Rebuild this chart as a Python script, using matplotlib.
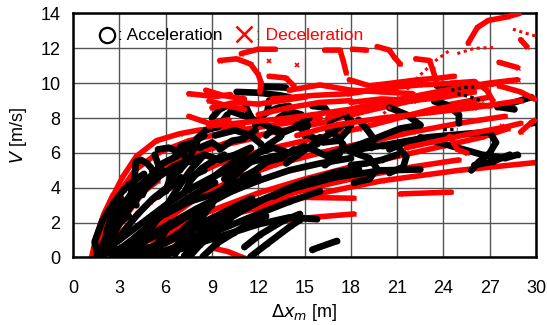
import matplotlib
matplotlib.use("Agg")
import matplotlib.pyplot as plt

# ---------------- data ----------------
x_ticks = [0, 3, 6, 9, 12, 15, 18, 21, 24, 27, 30]
y_ticks = [0, 2, 4, 6, 8, 10, 12, 14]

# Deceleration trajectories (dx_m [m], V [m/s])
dec_x = [
    [1.3, 1.7, 2.4, 3.2, 4.1, 5.4, 6.9, 8.1, 11.0],
    [1.5, 2.2, 3.0, 4.0, 5.5, 7.5, 10, 13, 16],
    [1.8, 2.8, 4.0, 5.5, 7.5, 10, 13, 16, 19, 22, 25, 27.5],
    [2.0, 3.5, 5.0, 7.0, 9.5, 12.5, 15.5, 18.5, 21.5, 24.5, 27],
    [2.5, 4.5, 7, 10, 13, 16, 19, 22, 25, 28],
    [3, 6, 9, 12, 15, 18, 21, 24, 26.5, 28.2],
    [5, 10, 15, 20, 25, 30],
    [13.5, 15.5, 18.2],
    [12, 15, 18.2],
    [21.2, 24.5],
    [9.0, 10.0, 11.0],
    [1.2, 1.5, 2.0, 2.6],
    [2.0, 3.5, 4.6, 5.5],
    [3.5, 5.5, 8, 11, 14, 17, 20],
    [4.5, 7, 10, 13, 16, 19, 22, 25],
    [1.4, 2.5, 3.5],
    [6, 8, 10, 12],
    [8.6, 9.7, 11.1],
    [8.8, 10.0, 11.1],
    [7.5, 8.8, 10.1],
    [9.5, 10.6, 11.5, 12.0, 12.2, 12.1],
    [10.9, 12.0, 13.1],
    [12.7, 13.8, 14.3],
    [16.3, 17.3, 17.5, 17.7],
    [18.1, 19.0],
    [19.7, 20.5, 20.8, 21.2],
    [22.2, 23.1, 23.3, 23.5],
    [25.6, 26.2, 26.9, 28.1, 28.9],
    [29.0, 29.4],
    [27.6, 28.8],
    [17.9, 19.2, 20.6, 22.4, 23.8, 24.7],
    [12.9, 15.6, 17.9, 20.1, 22.4, 24.7, 26.5],
    [24.5, 26.0, 26.8, 27.2],
    [27.6, 29.0, 29.9],
    [29.0, 29.7, 30.0],
    [8.8, 11.1, 13.4, 15.6, 17.9, 20.1, 22.4, 24.7, 26.9, 28.8],
    [12, 14, 16, 18],
    [14.5, 17, 20, 23, 26, 29],
    [21.6, 26.0, 28.1, 29.0],
    [24.4, 24.9, 25.5],
    [7.5, 8.5, 9.3, 10.2],
    [9.0, 10.5, 12.0, 13.5, 15.0],
    [14, 16, 18, 20, 22],
    [18, 20, 22, 24, 26],
    [16.5, 17.5, 18.5, 19.5],
    [22.5, 24.0, 25.5, 27.0],
]
dec_y = [
    [0.1, 1.5, 3.2, 4.6, 5.8, 6.7, 7.1, 7.3, 7.6],
    [0.1, 2.0, 3.7, 5.0, 6.0, 6.7, 7.2, 7.6, 8.0],
    [0.2, 2.0, 3.6, 4.8, 5.8, 6.6, 7.2, 7.7, 8.4, 9.0, 9.6, 10.0],
    [0.1, 1.8, 3.2, 4.4, 5.4, 6.2, 6.8, 7.4, 8.1, 8.8, 9.2],
    [0.1, 1.5, 3.0, 4.3, 5.3, 6.0, 6.6, 7.2, 7.7, 8.1],
    [0.1, 1.5, 2.7, 3.7, 4.5, 5.2, 5.8, 6.4, 6.9, 7.4],
    [1.0, 2.4, 3.5, 4.4, 5.0, 5.45],
    [2.1, 2.3, 2.5],
    [3.1, 3.45, 3.4],
    [3.65, 3.75],
    [0.55, 0.35, 0.0],
    [0.0, 1.2, 2.5, 3.6],
    [0.5, 2.5, 3.8, 4.4],
    [0.3, 1.8, 3.4, 4.7, 5.6, 6.2, 6.8],
    [0.2, 1.2, 2.4, 3.4, 4.1, 4.7, 5.2, 5.6],
    [0.0, 0.8, 1.8],
    [5.2, 6.0, 6.5, 6.9],
    [9.6, 9.3, 9.1],
    [9.0, 8.7, 8.5],
    [8.1, 7.7, 7.9],
    [11.3, 11.4, 11.1, 10.5, 10.0, 9.5],
    [11.7, 11.95, 11.95],
    [10.4, 10.3, 9.85],
    [11.9, 11.9, 11.3, 10.6],
    [11.95, 11.9],
    [12.1, 11.9, 11.5, 11.1],
    [11.4, 11.3, 10.8, 10.2],
    [12.3, 13.2, 13.6, 13.8, 14.0],
    [12.5, 12.1],
    [11.2, 10.9],
    [10.2, 9.85, 10.0, 10.2, 10.3, 10.4],
    [9.1, 9.3, 9.4, 9.7, 9.9, 10.0, 9.9],
    [10.0, 10.1, 9.6, 9.0],
    [9.85, 9.5, 9.1],
    [7.2, 7.75, 7.9],
    [7.55, 7.75, 7.95, 8.2, 8.5, 8.9, 9.3, 9.7, 10.0, 10.2],
    [8.2, 8.6, 8.9, 9.0],
    [7.0, 7.6, 8.0, 8.3, 8.6, 9.0],
    [6.3, 7.15, 7.5, 7.7],
    [6.96, 6.2, 6.0],
    [9.4, 9.3, 9.25, 9.35],
    [8.6, 8.9, 8.8, 9.0, 9.2],
    [9.6, 9.9, 9.6, 9.5, 9.4],
    [8.9, 9.1, 9.0, 9.2, 9.5],
    [8.0, 8.3, 8.6, 8.8],
    [8.3, 8.6, 8.8, 8.7],
]
# sparse (dotted) deceleration trajectories
dec_sparse_x = [
    [19.5, 21.3, 22.4, 23.5, 24.5],
    [24.9, 26.0, 27.2],
    [28.5, 29.2, 30.0],
]
dec_sparse_y = [
    [7.7, 9.3, 10.4, 11.3, 11.95],
    [11.7, 12.0, 12.05],
    [13.1, 12.9, 12.7],
]
dec_single_x = [14.5, 12.7, 27.8]
dec_single_y = [11.05, 11.3, 7.55]

# Acceleration trajectories
acc_x = [
    [1.6, 1.4, 1.9, 2.6, 3.3, 4.1, 4.6],
    [4.1, 3.95, 4.07, 4.4, 4.8, 5.1, 5.25],
    [1.8, 2.5, 3.5, 4.5, 5.5, 6.5, 7.5],
    [1.7, 3, 4.5, 6, 7.5, 9, 10.5, 12, 13.5],
    [2, 4, 6, 8, 10, 12, 14, 16, 18],
    [2.5, 5, 8, 11, 14, 17, 20, 22.5],
    [3, 6, 9, 12, 14, 16],
    [4.5, 7, 9.5, 12, 14, 15.8],
    [8.4, 9.3, 10.4, 11.3, 12.5],
    [11.5, 12.6, 14.1, 14.7],
    [11.1, 12.1, 13.6, 14.7],
    [15.5, 17.1],
    [7.2, 7.8, 8.5],
    [18.5, 20.5, 23.0, 25.5, 27.0, 27.4, 27.0, 26.3, 25.8],
    [22.5, 24.5, 26.5, 28.0, 28.8],
    [26.0, 27.2, 28.3],
    [17.9, 19.2, 19.7, 19.2, 18.2],
    [20.0, 21.0, 21.6, 21.4, 20.5],
    [23.5, 24.8],
    [27.5, 28.4, 29.7],
    [27.5, 28.6],
    [20.5, 21.6, 22.5],
    [23.4, 24.2, 25.0, 25.0],
    [29.7, 30.0],
    [10.6, 12.1, 13.4, 14.0],
    [12.4, 13.8],
    [11.0, 11.2, 11.5],
    [12.7, 12.6],
    [10.2, 11.5, 12.5, 13.5],
    [13.3, 14.0, 14.8, 15.2, 15.0],
    [15.5, 16.3, 16.8, 16.5],
    [14.5, 15.3, 16.2, 17.2, 17.8, 18.0],
    [9.2, 10.5, 11.5, 12.2],
    [7.4, 8.2, 9.0, 9.5],
    [5.5, 6.2, 7.0, 7.6],
    [5.3, 5.6, 6.2, 6.9],
    [7.5, 8.5, 9.5, 10.5, 11.5],
    [12, 13, 14, 15, 16, 17],
    [3.5, 3.8, 3.6],
    [5.5, 6.5, 7.5, 8.5],
    [2.8, 3.3, 3.0],
    [6.0, 7.5, 9, 10.5, 12],
    [13, 15, 17, 18.5],
    [16.3, 17.2, 17.5, 17.0],
    [9.0, 9.5, 10.2, 10.5],
    [18.5, 19.0, 19.5, 19.3],
    [16.5, 18, 19.5, 21.2, 22.5],
    [2.2, 2.9, 3.8, 4.7, 5.6],
    [4.0, 5.0, 6.0, 6.8, 7.6, 8.4],
    [6.6, 7.4, 8.2, 9.0, 9.8, 10.6, 11.4],
    [8.0, 9.5, 11.0, 12.5, 14.0, 15.5],
    [1.9, 2.5, 3.2, 4.0, 4.8, 5.5],
    [2.3, 3.2, 4.2, 5.2, 6.2, 7.0],
    [2.6, 3.8, 5.0, 6.4, 7.8, 9.2],
    [3.2, 4.6, 6.0, 7.5, 9.0, 10.5, 12.0],
    [3.6, 5.2, 6.8, 8.4, 10.0, 11.6],
    [1.5, 2.0, 2.8, 3.6],
    [2.0, 2.2, 2.6, 3.1],
    [5.0, 6.0, 7.0, 8.0, 9.0],
    [6.0, 7.5, 9.0, 10.5],
    [7.6, 8.2, 8.7, 9.4, 10.2],
    [5.5, 6.5, 7.3, 7.9],
    [4.8, 5.3, 5.9, 6.3],
    [4.5, 5.0, 5.8, 6.7, 7.4],
    [6.0, 6.3, 6.9, 7.5, 8.0],
    [7.2, 7.6, 8.3, 9.0, 9.8],
    [8.5, 9.2, 9.8, 10.6, 11.4],
    [9.8, 10.4, 11.2, 12.0, 12.7, 13.4],
    [11.0, 11.8, 12.6, 13.5, 14.3],
    [8.0, 8.6, 9.4, 10.0],
    [9.5, 10.3, 11.0, 11.8],
    [12.5, 13.0, 13.7, 14.5, 15.3],
    [6.6, 7.0, 7.8, 8.5],
    [15.0, 15.8, 16.6, 17.5],
    [13.8, 14.6, 15.4, 16.0],
    [11.8, 12.5, 13.3, 14.0],
    [17.0, 17.6, 18.0],
    [18.0, 19.0, 20.0, 21.0],
    [20.5, 21.5, 22.5],
]
acc_y = [
    [0.1, 0.9, 2.1, 3.1, 3.9, 4.5, 4.8],
    [3.0, 4.0, 5.5, 5.6, 5.4, 5.1, 4.6],
    [0.2, 1.4, 2.8, 3.8, 4.6, 5.2, 5.6],
    [0.3, 1.0, 2.0, 3.0, 3.9, 4.6, 5.2, 5.6, 5.9],
    [0.2, 0.8, 1.8, 2.8, 3.7, 4.4, 5.0, 5.4, 5.7],
    [0.1, 0.6, 1.7, 2.9, 3.9, 4.6, 5.0, 5.05],
    [0.1, 0.4, 1.4, 2.5, 3.2, 3.8],
    [0.1, 0.5, 1.2, 1.9, 2.3, 2.2],
    [0.05, 0.8, 1.4, 1.9, 2.4],
    [0.05, 0.8, 1.8, 2.15],
    [0.6, 1.3, 2.1, 2.5],
    [0.45, 0.95],
    [0.1, 0.6, 1.2],
    [6.2, 6.5, 6.9, 7.1, 7.2, 6.6, 6.0, 5.5, 5.0],
    [6.9, 6.4, 5.9, 5.7, 5.9],
    [5.3, 5.5, 5.9],
    [6.1, 5.7, 5.1, 4.5, 4.3],
    [6.4, 6.4, 5.8, 5.2, 4.85],
    [9.9, 9.9],
    [8.65, 8.85, 9.2],
    [8.65, 8.5],
    [8.6, 8.2, 7.6],
    [8.96, 8.77, 8.2, 7.7],
    [7.7, 7.75],
    [9.5, 9.45, 9.3, 9.2],
    [9.8, 9.75],
    [9.1, 8.65, 8.1],
    [9.0, 8.4],
    [8.4, 8.0, 7.6, 7.0],
    [8.0, 8.4, 8.2, 7.6, 7.0],
    [8.7, 8.6, 8.0, 7.3],
    [7.6, 7.0, 6.6, 6.7, 7.3, 7.9],
    [7.0, 7.3, 7.0, 6.5],
    [6.5, 6.3, 6.6, 6.3],
    [6.2, 6.3, 6.0, 5.5],
    [5.9, 5.1, 4.8, 5.3],
    [5.5, 5.9, 5.6, 5.9, 6.3],
    [6.0, 6.3, 6.0, 6.4, 6.0, 5.6],
    [3.0, 3.8, 4.2],
    [3.5, 4.2, 4.6, 5.0],
    [1.8, 2.5, 3.4],
    [2.5, 3.2, 3.6, 4.3, 4.7],
    [3.5, 4.3, 4.9, 5.1],
    [5.3, 5.8, 6.5, 7.0],
    [8.0, 8.5, 8.8, 8.4],
    [7.9, 7.4, 6.8, 6.3],
    [5.9, 6.3, 6.8, 7.4, 7.6],
    [0.5, 1.8, 3.0, 4.0, 5.1],
    [0.3, 1.6, 2.9, 4.0, 5.0, 5.8],
    [0.2, 1.1, 2.1, 3.1, 4.0, 4.8, 5.4],
    [1.0, 1.9, 2.7, 3.4, 4.0, 4.5],
    [0.6, 1.9, 3.0, 3.9, 4.5, 5.0],
    [0.3, 1.4, 2.5, 3.4, 4.1, 4.6],
    [0.2, 1.0, 1.9, 2.8, 3.6, 4.3],
    [0.3, 0.9, 1.6, 2.4, 3.2, 3.9, 4.5],
    [0.05, 0.5, 1.2, 2.0, 2.7, 3.4],
    [0.0, 0.9, 1.8, 2.4],
    [0.5, 1.6, 2.6, 3.4],
    [0.2, 0.9, 1.5, 2.3, 3.0],
    [0.1, 0.9, 1.9, 2.6],
    [0.1, 0.7, 1.1, 1.6, 2.2],
    [0.0, 0.5, 1.2, 2.0],
    [0.0, 0.6, 1.4, 2.0],
    [3.6, 4.6, 5.4, 5.8, 6.2],
    [3.8, 4.6, 5.0, 5.6, 6.6],
    [3.7, 4.4, 5.1, 5.5, 5.9],
    [4.0, 4.7, 5.1, 5.6, 6.2],
    [4.5, 5.1, 5.6, 6.0, 6.5, 6.9],
    [4.6, 5.0, 5.5, 5.7, 6.2],
    [6.8, 7.3, 7.5, 8.2],
    [6.2, 6.7, 6.8, 7.3],
    [7.0, 7.4, 7.2, 7.5, 8.0],
    [5.8, 6.4, 6.6, 7.0],
    [6.2, 6.5, 7.1, 7.6],
    [5.4, 5.9, 6.4, 6.9],
    [7.6, 8.3, 8.6, 8.7],
    [8.0, 8.3, 7.6],
    [5.3, 5.4, 5.6, 5.9],
    [6.2, 6.6, 6.8],
]
# sparse (dotted) acceleration trajectories
acc_sparse_x = [
    [24.5, 25.3, 26.2],
    [24.9, 25.8, 26.6],
    [24.0, 24.9],
]
acc_sparse_y = [
    [9.6, 9.75, 9.8],
    [9.4, 9.2, 8.95],
    [7.4, 7.4],
]

legend_acc = " : Acceleration"
legend_dec = " : Deceleration"

# ---------------- figure ----------------
plt.rcParams['font.family'] = ['Liberation Sans', 'DejaVu Sans']
fig = plt.figure(figsize=(5.47, 3.25), dpi=100)
ax = fig.add_axes([0.1335, 0.2077, 0.8465, 0.7508])

RED = '#ff0000'
n_dec_low = 17  # the lower fan is drawn beneath the black trajectories
for i, (xs, ys) in enumerate(zip(dec_x, dec_y)):
    ax.plot(xs, ys, color=RED, lw=4.0, solid_capstyle='round',
            solid_joinstyle='round', marker='x', ms=3, mew=1,
            zorder=2 if i < n_dec_low else 4)
for xs, ys in zip(dec_sparse_x, dec_sparse_y):
    ax.plot(xs, ys, color=RED, lw=2.2, ls=(0, (1, 1.2)), zorder=4)
ax.plot(dec_single_x, dec_single_y, ls='none', marker='x', ms=3.5, mew=1.2,
        color=RED, zorder=4)

for xs, ys in zip(acc_x, acc_y):
    ax.plot(xs, ys, color='black', lw=4.8, solid_capstyle='round',
            solid_joinstyle='round', marker='o', ms=3, zorder=3)
for xs, ys in zip(acc_sparse_x, acc_sparse_y):
    ax.plot(xs, ys, color='black', lw=2.4, ls=(0, (1, 1)), zorder=5)

ax.set_xlim(0, 30)
ax.set_ylim(0, 14)
ax.set_xticks(x_ticks)
ax.set_yticks(y_ticks)
ax.set_xticklabels([str(t) for t in x_ticks], fontsize=13)
ax.set_yticklabels([str(t) for t in y_ticks], fontsize=13)
ax.tick_params(axis='x', length=0, pad=16)
ax.tick_params(axis='y', length=0, pad=9)
ax.grid(True, color='#555555', lw=1.0, zorder=0)
ax.set_axisbelow(True)
for sp in ax.spines.values():
    sp.set_linewidth(1.8)
    sp.set_color('black')

ax.set_ylabel(r'$\mathit{V}$ [m/s]', fontsize=13, labelpad=8)
ax.set_xlabel(r'$\mathit{\Delta x_m}$ [m]', fontsize=13, labelpad=4)

# legend drawn as text
ax.plot([2.2], [12.75], marker='o', ms=11, mfc='white', mec='black', mew=1.6,
        ls='none', zorder=6)
ax.text(2.6, 12.75, legend_acc, fontsize=12.5, color='black', va='center',
        ha='left', zorder=6)
ax.plot([11.1], [12.8], marker='x', ms=11, mec=RED, mew=1.8, ls='none',
        zorder=6)
ax.text(11.5, 12.75, legend_dec, fontsize=12.5, color=RED, va='center',
        ha='left', zorder=6)

fig.savefig('out.png', dpi=100)
